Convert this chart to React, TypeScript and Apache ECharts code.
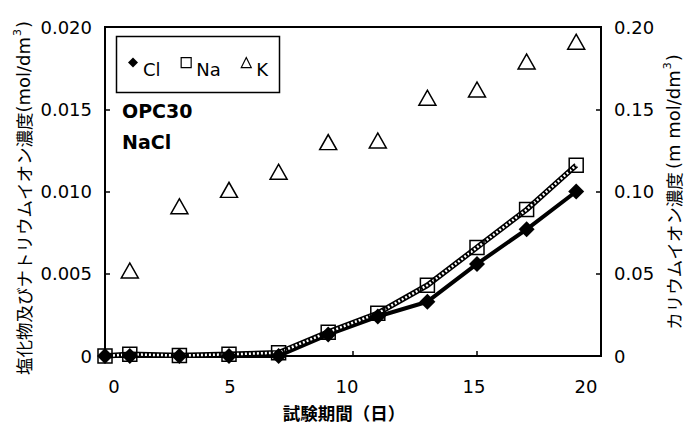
import React, { useEffect, useRef } from 'react';
import * as echarts from 'echarts';

// ---- data ----
const days = [0, 1, 3, 5, 7, 9, 11, 13, 15, 17, 19];
const clValues = [0, 0, 0, 0, 0, 0.0013, 0.0024, 0.0033, 0.0056, 0.0077, 0.01];
const naValues = [0, 0.0001, 0.00003, 0.0001, 0.0002, 0.00145, 0.0026, 0.0043, 0.0066, 0.0089, 0.0116];
const kDays = [1, 3, 5, 7, 9, 11, 13, 15, 17, 19];
const kValues = [0.052, 0.091, 0.101, 0.112, 0.13, 0.131, 0.157, 0.162, 0.179, 0.191];
const xTickLabels = ['0', '5', '10', '15', '20'];
const leftTickLabels = ['0', '0.005', '0.010', '0.015', '0.020'];
const rightTickLabels = ['0', '0.05', '0.10', '0.15', '0.20'];
const seriesNames = ['Cl', 'Na', 'K'];

const LATIN = '"DejaVu Sans", "Liberation Sans", Arial, sans-serif';
const CJK = '"Noto Sans CJK JP", "Noto Sans CJK SC", sans-serif';

// horizontal label nudges (px) for x tick labels
const xLabelShift = [9, 1, -6, -3, -15];

export default function App() {
  const ref = useRef<HTMLDivElement>(null);

  useEffect(() => {
    if (!ref.current) return;
    const chart = echarts.init(ref.current, undefined, { renderer: 'svg' });

    const pair = (xs: number[], ys: number[]) => xs.map((x, i) => [x, ys[i]]);
    const clData = pair(days, clValues);
    const naData = pair(days, naValues);
    const kData = pair(kDays, kValues);

    const xRich: Record<string, any> = {};
    xTickLabels.forEach((_, i) => {
      const s = xLabelShift[i];
      xRich['x' + i] = {
        fontFamily: LATIN,
        fontSize: 18,
        color: '#000',
        padding: s >= 0 ? [0, 0, 0, 2 * s] : [0, -2 * s, 0, 0],
      };
    });

    const option: any = {
      animation: false,
      backgroundColor: '#fff',
      grid: {
        left: 105,
        right: 84,
        top: 27,
        bottom: 70,
        show: true,
        borderColor: '#000',
        borderWidth: 2,
        outerBoundsMode: 'none',
      },
      xAxis: {
        type: 'value',
        min: 0,
        max: 20,
        interval: 5,
        axisLine: { show: true, lineStyle: { color: '#000', width: 2 } },
        axisTick: { show: true, inside: true, length: 5, lineStyle: { color: '#000', width: 1.5 } },
        splitLine: { show: false },
        axisLabel: {
          margin: 21,
          formatter: (v: number) => {
            const i = xTickLabels.indexOf(String(v));
            return i >= 0 ? `{x${i}|${xTickLabels[i]}}` : '';
          },
          rich: xRich,
          fontFamily: LATIN,
          fontSize: 18,
          color: '#000',
        },
      },
      yAxis: [
        {
          type: 'value',
          min: 0,
          max: 0.02,
          interval: 0.005,
          position: 'left',
          axisLine: { show: true, lineStyle: { color: '#000', width: 2 } },
          axisTick: { show: true, inside: true, length: 5, lineStyle: { color: '#000', width: 1.5 } },
          splitLine: { show: false },
          axisLabel: {
            margin: 13,
            fontFamily: LATIN,
            fontSize: 18,
            color: '#000',
            formatter: (v: number) => leftTickLabels[Math.round(v / 0.005)] ?? '',
          },
        },
        {
          type: 'value',
          min: 0,
          max: 0.2,
          interval: 0.05,
          position: 'right',
          axisLine: { show: true, lineStyle: { color: '#000', width: 2 } },
          axisTick: { show: true, inside: true, length: 5, lineStyle: { color: '#000', width: 1.5 } },
          splitLine: { show: false },
          axisLabel: {
            margin: 13,
            fontFamily: LATIN,
            fontSize: 18,
            color: '#000',
            formatter: (v: number) => rightTickLabels[Math.round(v / 0.05)] ?? '',
          },
        },
      ],
      legend: {
        left: 128,
        top: 57,
        padding: 0,
        itemWidth: 10,
        itemHeight: 10,
        itemGap: 20,
        selectedMode: false,
        formatter: (name: string) => `{t|${name}}`,
        textStyle: {
          fontFamily: LATIN,
          fontSize: 18,
          color: '#000',
          rich: { t: { fontFamily: LATIN, fontSize: 18, color: '#000', padding: [14, 0, 0, 0] } },
        },
        data: [
          { name: seriesNames[0], icon: 'diamond', itemStyle: { color: '#000', borderWidth: 0, opacity: 1 } },
          { name: seriesNames[1], icon: 'rect', itemStyle: { color: 'rgba(0,0,0,0)', borderColor: '#000', borderWidth: 1.2, opacity: 1 } },
          { name: seriesNames[2], icon: 'triangle', itemStyle: { color: 'rgba(0,0,0,0)', borderColor: '#000', borderWidth: 1.2, opacity: 1 } },
        ],
      },
      graphic: [
        {
          type: 'rect',
          left: 114,
          top: 34,
          shape: { width: 163, height: 56 },
          style: { fill: 'none', stroke: '#000', lineWidth: 1.5 },
          z: 10,
        },
        {
          type: 'text',
          left: 122,
          top: 101,
          style: { text: 'OPC30', fontFamily: LATIN, fontWeight: 'bold', fontSize: 19, fill: '#000' },
        },
        {
          type: 'text',
          left: 122,
          top: 132,
          style: { text: 'NaCl', fontFamily: LATIN, fontWeight: 'bold', fontSize: 19, fill: '#000' },
        },
        {
          type: 'text',
          x: 344,
          y: 412,
          style: {
            text: '試験期間（日）',
            fontFamily: CJK,
            fontWeight: 'bold',
            fontSize: 17.5,
            fill: '#000',
            align: 'center',
            verticalAlign: 'middle',
          },
        },
        {
          type: 'text',
          x: 23,
          y: 198,
          rotation: Math.PI / 2,
          style: {
            text: '{a|塩化物及びナトリウムイオン濃度}{b|(mol/dm}{c|3}{b|)}',
            align: 'center',
            verticalAlign: 'middle',
            rich: {
              a: { fontFamily: CJK, fontSize: 17.5, fill: '#000', lineHeight: 22 },
              b: { fontFamily: LATIN, fontSize: 18, fill: '#000', lineHeight: 22 },
              c: { fontFamily: LATIN, fontSize: 11, fill: '#000', lineHeight: 22, verticalAlign: 'top', padding: [0, 1, 10, 1] },
            },
          },
        },
        {
          type: 'text',
          x: 673,
          y: 192,
          rotation: Math.PI / 2,
          style: {
            text: '{a|カリウムイオン濃度} {b|(m mol/dm}{c|3}{b|)}',
            align: 'center',
            verticalAlign: 'middle',
            rich: {
              a: { fontFamily: CJK, fontSize: 17.5, fill: '#000', lineHeight: 22 },
              b: { fontFamily: LATIN, fontSize: 18, fill: '#000', lineHeight: 22 },
              c: { fontFamily: LATIN, fontSize: 11, fill: '#000', lineHeight: 22, verticalAlign: 'top', padding: [0, 1, 10, 1] },
            },
          },
        },
      ],
      series: [
        {
          name: 'Cl-line',
          type: 'line',
          data: clData,
          showSymbol: false,
          symbol: 'none',
          lineStyle: { color: '#000', width: 4 },
          z: 2,
          silent: true,
        },
        {
          name: 'Na-line',
          type: 'line',
          data: naData,
          symbol: 'none',
          lineStyle: { color: '#000', width: 5.5 },
          z: 3,
          silent: true,
        },
        {
          name: 'Na-line-pattern',
          type: 'line',
          data: naData,
          symbol: 'none',
          lineStyle: { color: '#fff', width: 2.5, type: [2, 2] },
          z: 4,
          silent: true,
        },
        {
          name: seriesNames[1],
          type: 'scatter',
          data: naData,
          symbol: 'rect',
          symbolSize: 14,
          itemStyle: { color: 'rgba(0,0,0,0)', borderColor: '#000', borderWidth: 1.5, opacity: 1 },
          z: 5,
        },
        {
          name: seriesNames[0],
          type: 'scatter',
          data: clData,
          symbol: 'diamond',
          symbolSize: 16,
          itemStyle: { color: '#000', opacity: 1 },
          z: 6,
        },
        {
          name: seriesNames[2],
          type: 'scatter',
          yAxisIndex: 1,
          data: kData,
          symbol: 'triangle',
          symbolSize: [17, 15],
          itemStyle: { color: 'rgba(0,0,0,0)', borderColor: '#000', borderWidth: 1.5, opacity: 1 },
          z: 5,
        },
      ],
    };

    chart.setOption(option);
    return () => chart.dispose();
  }, []);

  return (
    <div
      ref={ref}
      style={{ position: 'fixed', left: 0, top: 0, width: 685, height: 426, background: '#fff' }}
    />
  );
}
